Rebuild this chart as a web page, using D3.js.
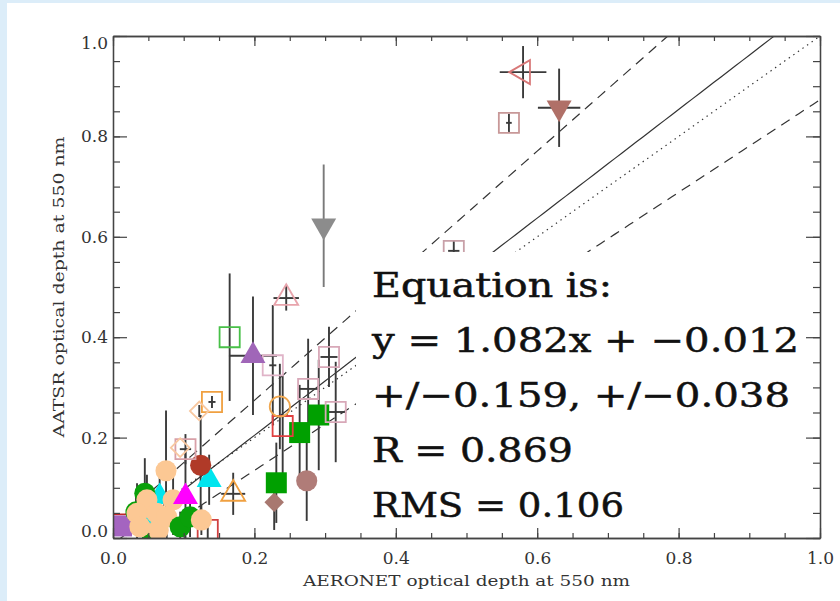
<!DOCTYPE html>
<html>
<head>
<meta charset="utf-8">
<script src="https://cdn.jsdelivr.net/npm/d3@7"></script>
<style>
  html, body { margin: 0; padding: 0; background: #dcedf9; }
  svg { display: block; }
</style>
</head>
<body>
<svg id="chart" width="840" height="601"></svg>
<script>
// AERONET vs AATSR aerosol optical depth at 550 nm, one marker per site/overpass.
// Arrays are listed in drawing order (later points sit on top).
const aeronet = [0.048, 0.066, 0.008, 0.012, 0.0325, 0.045, 0.055, 0.134,
  0.048, 0.034, 0.085, 0.062, 0.038, 0.064, 0.076,
  0.095, 0.109, 0.125, 0.075, 0.1025, 0.136, 0.124, 0.170, 0.228, 0.231, 0.274,
  0.264, 0.291, 0.240, 0.236, 0.3055, 0.276, 0.315, 0.1025, 0.095, 0.140, 0.122,
  0.226, 0.165, 0.198, 0.245, 0.298, 0.482, 0.560, 0.580, 0.631];
const aatsr = [0.040, 0.082, 0.027, 0.024, 0.052, 0.089, 0.008, 0.016,
  0.076, 0.049, 0.076, 0.049, 0.0225, 0.016, 0.042,
  0.0225, 0.042, 0.036, 0.134, 0.082, 0.116, 0.145, 0.088, 0.071, 0.110, 0.114,
  0.210, 0.245, 0.223, 0.262, 0.3606, 0.297, 0.251, 0.177, 0.180, 0.271, 0.253,
  0.344, 0.400, 0.363, 0.478, 0.622, 0.572, 0.827, 0.928, 0.857];
const aeronetErr = [0, 0, 0, 0, 0, 0, 0, 0,
  0, 0, 0, 0, 0, 0, 0,
  0, 0, 0, 0, 0, 0, 0, 0.017, 0, 0, 0,
  0, 0, 0, 0, 0.012, 0.014, 0.015, 0.008, 0, 0.005, 0,
  0.005, 0, 0.034, 0.018, 0, 0.008, 0.004, 0.033, 0.030];
const aatsrErr = [0.03, 0.04, 0, 0, 0.03, 0.07, 0, 0.03,
  0.05, 0.06, 0.07, 0.04, 0, 0, 0.05,
  0.03, 0.04, 0.03, 0.12, 0.09, 0.05, 0.10, 0.042, 0.055, 0.08, 0.08,
  0.095, 0.11, 0.10, 0.085, 0.06, 0.10, 0.10, 0.03, 0, 0.012, 0.012,
  0.12, 0.127, 0.118, 0.025, 0.122, 0.02, 0.018, 0.052, 0.078];

// Marker styles, one entry per point
const symbolShape = ["triUp", "triUp", "square", "square", "circle", "circle", "circle", "square",
  "circle", "circle", "circle", "circle", "circle", "circle", "circle",
  "circle", "circle", "circle", "circle", "triUp", "triUp", "circle", "triUp", "diamond", "square", "circle",
  "square", "square", "square", "circle", "square", "square", "square", "square", "diamond", "square", "diamond",
  "square", "square", "triUp", "triUp", "triDown", "square", "square", "triLeft", "triDown"];
const symbolColor = ["#00e5ee", "#00e5ee", "#c02828", "#a464c0", "#0aa00a", "#0aa00a", "#0aa00a", "#d04040",
  "#fcc894", "#fcc894", "#fcc894", "#fcc894", "#fcc894", "#fcc894", "#fcc894",
  "#0aa00a", "#0aa00a", "#fcc894", "#fcc894", "#ff00ff", "#00e5ee", "#b03a28", "#f0a040", "#a87870", "#00a000", "#b07c78",
  "#00a000", "#00a000", "#e04040", "#f0a850", "#d8a8b8", "#d8a8b8", "#d8a8b8", "#d8a0a8", "#f8c8a0", "#f0a040", "#f8c8a0",
  "#e0b4c8", "#48c048", "#a066b8", "#e8a4ac", "#8c8c8c", "#c8a0a8", "#c89898", "#d87878", "#b07068"];
const symbolFilled = [1, 1, 0, 1, 1, 1, 1, 0,
  1, 1, 1, 1, 1, 1, 1,
  1, 1, 1, 1, 1, 1, 1, 0, 1, 1, 1,
  1, 1, 0, 0, 0, 0, 0, 0, 0, 0, 0,
  0, 0, 1, 0, 1, 0, 0, 0, 1];

// Regression results
const fitSlope = 1.082, fitIntercept = -0.012;
const slopeErr = 0.159, interceptErr = 0.038;
const corrR = 0.869, rmsDiff = 0.106;

const majorTicks = [0, 0.2, 0.4, 0.6, 0.8, 1.0];
const minorTicks = d3.range(0, 1.0001, 0.05);

const xTitle = "AERONET optical depth at 550 nm";
const yTitle = "AATSR optical depth at 550 nm";

// ---------------------------------------------------------------------------
const svg = d3.select("#chart");
const plot = { left: 113, right: 820, top: 36, bottom: 538 };

const x = d3.scaleLinear().domain([0, 1]).range([plot.left, plot.right]);
const y = d3.scaleLinear().domain([0, 1]).range([plot.bottom, plot.top]);

// white page panel
svg.append("rect").attr("x", 7).attr("y", 3).attr("width", 833).attr("height", 598).attr("fill", "#ffffff");

svg.append("clipPath").attr("id", "plotClip")
  .append("rect")
  .attr("x", plot.left).attr("y", plot.top)
  .attr("width", plot.right - plot.left).attr("height", plot.bottom - plot.top);

const inner = svg.append("g").attr("clip-path", "url(#plotClip)");

// 1:1 line, fit line and fit envelope
const lineGen = d3.line().x(d => x(d[0])).y(d => y(d[1]));
const xs = d3.range(0, 1.0001, 0.01);
const refLines = [
  { a: 1, b: 0, dash: "1.4,4.2" },
  { a: fitSlope, b: fitIntercept, dash: null },
  { a: fitSlope + slopeErr, b: fitIntercept + interceptErr, dash: "10,7" },
  { a: fitSlope - slopeErr, b: fitIntercept - interceptErr, dash: "10,7" }
];
inner.selectAll("path.ref").data(refLines).join("path")
  .attr("class", "ref")
  .attr("d", l => lineGen(xs.map(v => [v, l.a * v + l.b])))
  .attr("fill", "none")
  .attr("stroke", "#333")
  .attr("stroke-width", 1.2)
  .attr("stroke-dasharray", l => l.dash);

const idx = d3.range(aeronet.length);
const errTone = i => symbolColor[i] === "#8c8c8c" ? "#7a7a7a" : "#3a3a3a";

// error bars
inner.selectAll("line.ey").data(idx.filter(i => aatsrErr[i] > 0)).join("line")
  .attr("class", "ey")
  .attr("x1", i => x(aeronet[i])).attr("x2", i => x(aeronet[i]))
  .attr("y1", i => y(aatsr[i] - aatsrErr[i])).attr("y2", i => y(aatsr[i] + aatsrErr[i]))
  .attr("stroke", errTone).attr("stroke-width", 1.9);
inner.selectAll("line.ex").data(idx.filter(i => aeronetErr[i] > 0)).join("line")
  .attr("class", "ex")
  .attr("x1", i => x(aeronet[i] - aeronetErr[i])).attr("x2", i => x(aeronet[i] + aeronetErr[i]))
  .attr("y1", i => y(aatsr[i])).attr("y2", i => y(aatsr[i]))
  .attr("stroke", errTone).attr("stroke-width", 1.9);

// markers
const shapeDef = {
  circle:  { type: d3.symbolCircle,   size: 350, rot: 0 },
  square:  { type: d3.symbolSquare,   size: 441, rot: 0 },
  diamond: { type: d3.symbolSquare,   size: 190, rot: 45 },
  triUp:   { type: d3.symbolTriangle, size: 270, rot: 0 },
  triDown: { type: d3.symbolTriangle, size: 270, rot: 180 },
  triLeft: { type: d3.symbolTriangle, size: 270, rot: -90 }
};
inner.selectAll("path.mk").data(idx).join("path")
  .attr("class", "mk")
  .attr("d", i => {
    const s = shapeDef[symbolShape[i]];
    const sz = symbolFilled[i] ? s.size : s.size * 0.92;
    return d3.symbol().type(s.type).size(sz)();
  })
  .attr("transform", i => `translate(${x(aeronet[i])},${y(aatsr[i])}) rotate(${shapeDef[symbolShape[i]].rot})`)
  .attr("fill", i => symbolFilled[i] ? symbolColor[i] : "none")
  .attr("stroke", i => symbolFilled[i] ? "none" : symbolColor[i])
  .attr("stroke-width", 1.8);

// statistics box
svg.append("rect").attr("x", 356).attr("y", 252).attr("width", 448).attr("height", 275).attr("fill", "#ffffff");

const fmt = v => v.toFixed(3).replace("-", "\u2212");
const statLines = [
  { t: "Equation is:", len: 240 },
  { t: `y = ${fmt(fitSlope)}x + ${fmt(fitIntercept)}`, len: 427 },
  { t: `+/\u2212${fmt(slopeErr)}, +/\u2212${fmt(interceptErr)}`, len: 418 },
  { t: `R = ${fmt(corrR)}`, len: 201 },
  { t: `RMS = ${fmt(rmsDiff)}`, len: 252 }
];
const baselines = [297, 352, 407, 462, 517];
svg.selectAll("text.stat").data(statLines).join("text")
  .attr("class", "stat")
  .attr("x", 372)
  .attr("y", (d, i) => baselines[i])
  .attr("font-family", "'DejaVu Serif', serif")
  .attr("font-size", 34)
  .attr("fill", "#111")
  .attr("stroke", "#111")
  .attr("stroke-width", 0.5)
  .attr("textLength", d => d.len)
  .attr("lengthAdjust", "spacingAndGlyphs")
  .text(d => d.t);

// axes: ticks point inward on all four sides
const axisStyle = g => {
  g.selectAll("path.domain").attr("stroke", "#444").attr("stroke-width", 1.3);
  g.selectAll(".tick line").attr("stroke", "#444").attr("stroke-width", 1.2);
  g.selectAll("text").attr("font-family", "'DejaVu Serif', serif").attr("font-size", 17).attr("fill", "#333");
};
const labelFmt = d3.format(".1f");

svg.append("g").attr("transform", `translate(0,${plot.bottom})`)
  .call(d3.axisBottom(x).tickValues(minorTicks).tickSizeInner(-5).tickSizeOuter(0).tickFormat(""))
  .call(axisStyle);
svg.append("g").attr("transform", `translate(0,${plot.bottom})`)
  .call(d3.axisBottom(x).tickValues(majorTicks).tickSizeInner(-10).tickSizeOuter(0).tickPadding(14).tickFormat(labelFmt))
  .call(axisStyle);
svg.append("g").attr("transform", `translate(0,${plot.top})`)
  .call(d3.axisTop(x).tickValues(minorTicks).tickSizeInner(-5).tickSizeOuter(0).tickFormat(""))
  .call(axisStyle);
svg.append("g").attr("transform", `translate(0,${plot.top})`)
  .call(d3.axisTop(x).tickValues(majorTicks).tickSizeInner(-10).tickSizeOuter(0).tickFormat(""))
  .call(axisStyle);

svg.append("g").attr("transform", `translate(${plot.left},0)`)
  .call(d3.axisLeft(y).tickValues(minorTicks).tickSizeInner(-7).tickSizeOuter(0).tickFormat(""))
  .call(axisStyle);
const yAxisG = svg.append("g").attr("transform", `translate(${plot.left},0)`)
  .call(d3.axisLeft(y).tickValues(majorTicks).tickSizeInner(-14).tickSizeOuter(0).tickPadding(5).tickFormat(labelFmt))
  .call(axisStyle);
// end labels are nudged inside the axis range
yAxisG.selectAll(".tick text").attr("dy", d => d === 1 ? "0.75em" : d === 0 ? "-0.1em" : "0.32em");

svg.append("g").attr("transform", `translate(${plot.right},0)`)
  .call(d3.axisRight(y).tickValues(minorTicks).tickSizeInner(-7).tickSizeOuter(0).tickFormat(""))
  .call(axisStyle);
svg.append("g").attr("transform", `translate(${plot.right},0)`)
  .call(d3.axisRight(y).tickValues(majorTicks).tickSizeInner(-14).tickSizeOuter(0).tickFormat(""))
  .call(axisStyle);

// axis titles
svg.append("text")
  .attr("x", (plot.left + plot.right) / 2).attr("y", 586)
  .attr("text-anchor", "middle")
  .attr("font-family", "'DejaVu Serif', serif").attr("font-size", 15).attr("fill", "#333")
  .attr("textLength", 327).attr("lengthAdjust", "spacingAndGlyphs")
  .text(xTitle);
svg.append("text")
  .attr("transform", `translate(64,${(plot.top + plot.bottom) / 2}) rotate(-90)`)
  .attr("text-anchor", "middle")
  .attr("font-family", "'DejaVu Serif', serif").attr("font-size", 15).attr("fill", "#333")
  .attr("textLength", 301).attr("lengthAdjust", "spacingAndGlyphs")
  .text(yTitle);
</script>
</body>
</html>
